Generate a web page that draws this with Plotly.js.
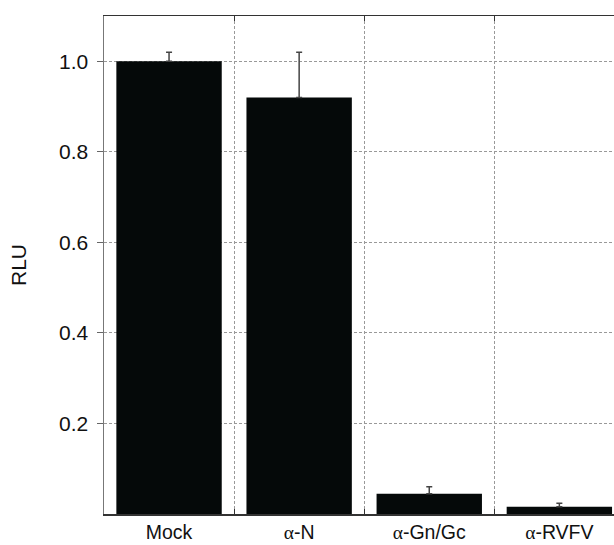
<!DOCTYPE html>
<html>
<head>
<meta charset="utf-8">
<script src="https://cdn.plot.ly/plotly-3.0.1.min.js"></script>
<style>html,body{margin:0;padding:0;background:#fff;}#chart{width:614px;height:545px;}</style>
</head>
<body>
<div id="chart"></div>
<script>
const categories = ["Mock", "α-N", "α-Gn/Gc", "α-RVFV"];
const tickLabels = [
  "Mock",
  "<span style=\"font-family:'Liberation Serif',serif\">α</span>-N",
  "<span style=\"font-family:'Liberation Serif',serif\">α</span>-Gn/Gc",
  "<span style=\"font-family:'Liberation Serif',serif\">α</span>-RVFV"
];
const rlu = [1.0, 0.92, 0.045, 0.016];
const rluErr = [0.02, 0.10, 0.015, 0.008];
const yTicks = [0.2, 0.4, 0.6, 0.8, 1.0];
const yTickText = ["0.2", "0.4", "0.6", "0.8", "1.0"];

const trace = {
  type: "bar",
  x: categories,
  y: rlu,
  width: 0.81,
  marker: {color: "#050909", line: {width: 0}},
  error_y: {type: "data", array: rluErr, arrayminus: rluErr.map(() => 0), symmetric: false,
            color: "#444", thickness: 1.5, width: 3}
};

const layout = {
  width: 614, height: 545,
  margin: {l: 104, r: 0, t: 16, b: 31, pad: 0},
  paper_bgcolor: "#fff", plot_bgcolor: "#fff",
  font: {family: "'Liberation Sans', Arial, sans-serif", size: 22, color: "#111"},
  showlegend: false,
  xaxis: {
    type: "category",
    categoryorder: "array", categoryarray: categories,
    tickvals: categories, ticktext: tickLabels,
    range: [-0.5, 3.42],
    tickson: "boundaries",
    ticks: "inside", ticklen: 5, tickcolor: "#333", tickwidth: 1,
    ticklabelstandoff: 0,
    showgrid: true, gridcolor: "#999", gridwidth: 1, griddash: "3px,2px",
    showline: true, linecolor: "#333", linewidth: 1.5, mirror: "ticks",
    tickfont: {size: 19.5, color: "#111"},
    zeroline: false, fixedrange: true
  },
  yaxis: {
    range: [0, 1.1],
    tickvals: yTicks, ticktext: yTickText,
    ticks: "outside", ticklen: 6, tickcolor: "#666", tickwidth: 1,
    ticklabelstandoff: 4,
    showgrid: true, gridcolor: "#999", gridwidth: 1, griddash: "3px,2px",
    showline: true, linecolor: "#777", linewidth: 1.5, mirror: false,
    zeroline: false,
    tickfont: {size: 21, color: "#111"},
    title: {text: "RLU", font: {size: 21, color: "#111"}, standoff: 26},
    fixedrange: true
  }
};

Plotly.newPlot("chart", [trace], layout, {displayModeBar: false, staticPlot: true});
</script>
</body>
</html>
